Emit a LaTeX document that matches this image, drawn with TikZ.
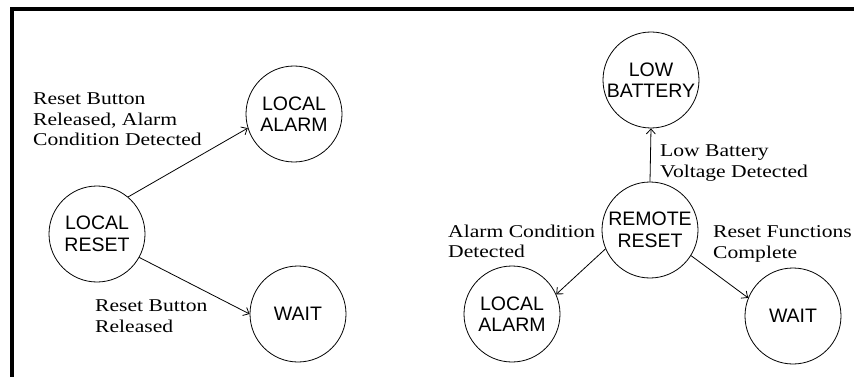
\documentclass[tikz,border=0pt]{standalone}
\usepackage{fontspec}
\usetikzlibrary{arrows.meta}
\newfontfamily\lblfont{Liberation Serif}[FakeStretch=1.2]
\newfontfamily\stfont{Liberation Sans}
\tikzset{
  state/.style={circle, draw, line width=0.8pt, minimum size=96pt, inner sep=0pt,
    align=center, font=\stfont\fontsize{19.5}{21.5}\selectfont},
  lbl/.style={anchor=north west, inner sep=0pt, align=left,
    font=\lblfont\fontsize{18}{20.5}\selectfont},
  trans/.style={line width=0.8pt, -{Straight Barb[length=5pt,width=9pt]}},
  frame/.style={line width=4pt, line join=miter}
}
\begin{document}
\begin{tikzpicture}[x=1pt,y=-1pt]
\useasboundingbox (0,0) rectangle (854,377);
\draw[frame] (12,377) -- (12,9) -- (854,9);
% left diagram
\node[state] (lr) at (97,234) {LOCAL\\RESET};
\node[state] (la1) at (294,114) {LOCAL\\ALARM};
\node[state] (w1) at (298,314) {WAIT};
\draw[trans] (lr.50) -- (la1.197);
\draw[trans] (lr.-29) -- (w1.180);
\node[lbl] (t1) at (33,92.7) {Reset Button\\Released, Alarm\\Condition Detected};
\node[lbl] (t2) at (95,299.7) {Reset Button\\Released};
% right diagram
\node[state] (lb) at (651,80) {LOW\\BATTERY};
\node[state] (rr) at (650,230) {REMOTE\\RESET};
\node[state] (la2) at (512,314) {LOCAL\\ALARM};
\node[state] (w2) at (793,316) {WAIT};
\draw[trans] (rr.north) -- (lb.south);
\draw[trans] (rr.203) -- (la2.24);
\draw[trans] (rr.-32) -- (w2.158);
\node[lbl] (t3) at (660,145) {Low Battery\\Voltage Detected};
\node[lbl] (t4) at (448,224.7) {Alarm Condition\\Detected};
\node[lbl] (t5) at (713,225.7) {Reset Functions\\Complete};
\end{tikzpicture}
\end{document}
